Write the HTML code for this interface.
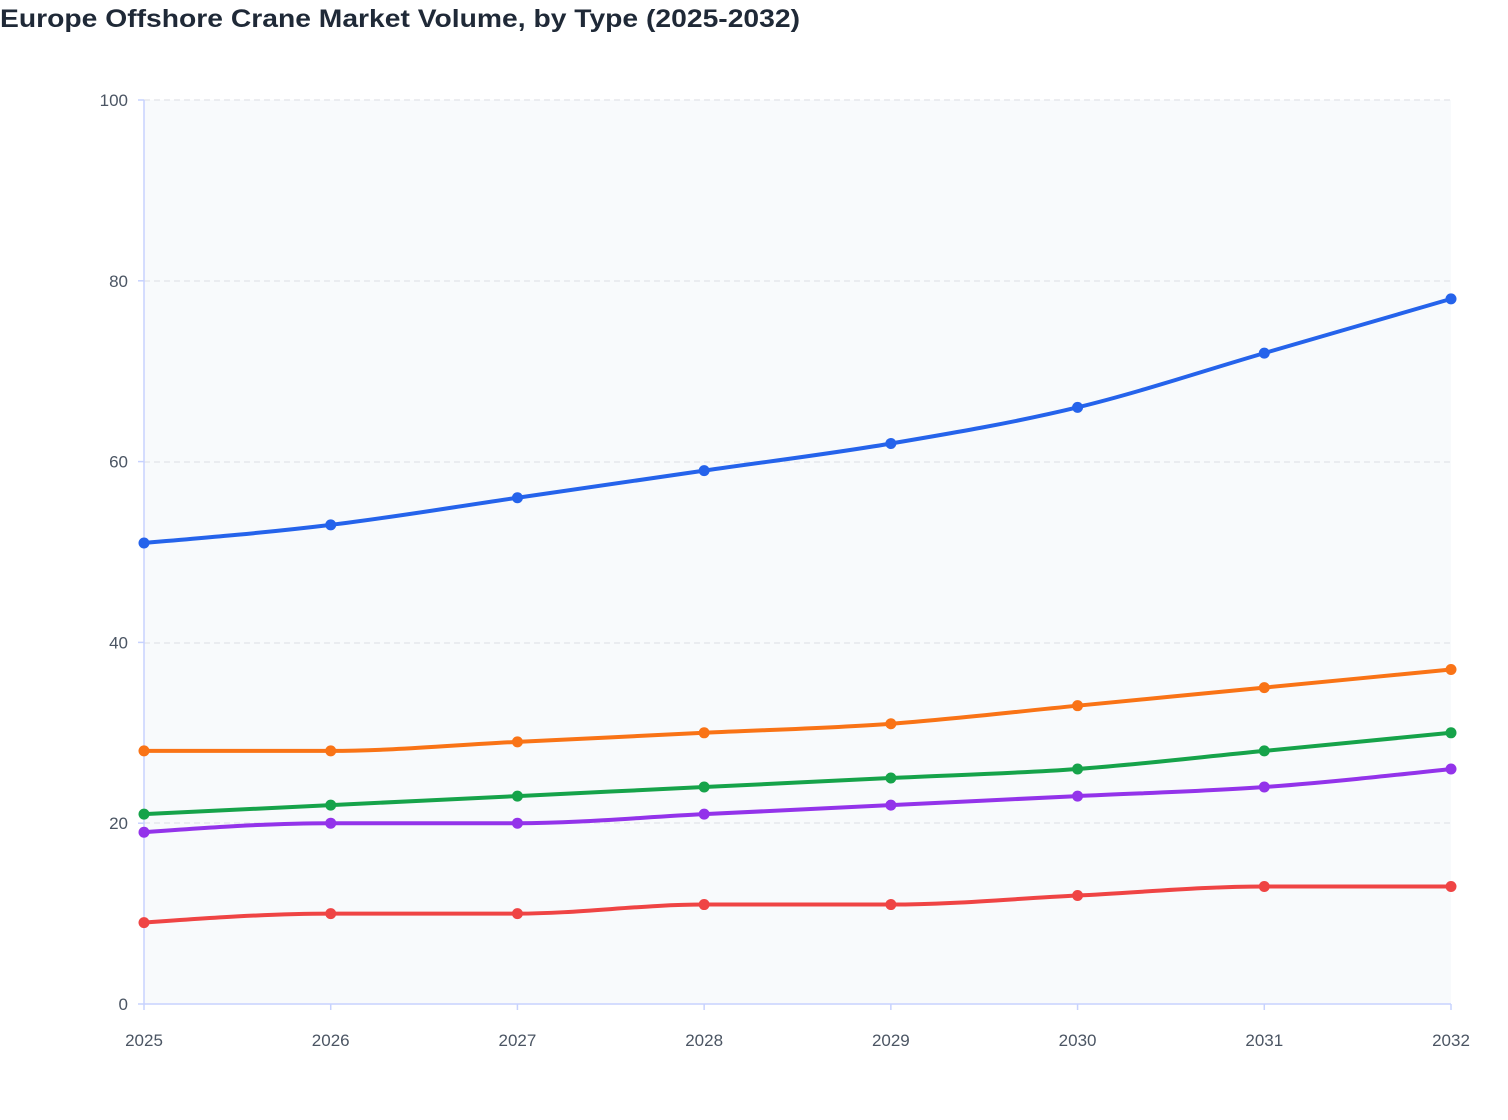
<!DOCTYPE html>
<html><head><meta charset="utf-8"><style>
html,body{margin:0;padding:0;background:#fff;width:1508px;height:1120px;overflow:hidden}
text{font-family:"Liberation Sans",sans-serif}
</style></head><body>
<svg id="s" width="1508" height="1120" xmlns="http://www.w3.org/2000/svg">
<text x="0" y="27" font-size="25" font-weight="600" fill="#1f2937" textLength="800" lengthAdjust="spacingAndGlyphs">Europe Offshore Crane Market Volume, by Type (2025-2032)</text>
<rect x="144" y="100" width="1307" height="904" fill="#f8fafc"/>
<g stroke="#e5e7eb" stroke-width="1.5" stroke-dasharray="6,4">
<line x1="144" x2="1451" y1="100" y2="100"/><line x1="144" x2="1451" y1="281" y2="281"/>
<line x1="144" x2="1451" y1="462" y2="462"/><line x1="144" x2="1451" y1="643" y2="643"/>
<line x1="144" x2="1451" y1="823" y2="823"/>
</g>
<g stroke="#c7d2fe" stroke-width="1.5">
<line x1="144" x2="144" y1="100" y2="1004"/><line x1="144" x2="1451" y1="1004" y2="1004"/>
</g>
<g id="ticks" stroke="#c7d2fe" stroke-width="1.5"></g>
<g id="labels" font-size="17" fill="#4b5563"></g>
<g id="series"></g>
</svg>
<script>
var X0=144,DX=(1451-144)/7,Y0=1004,SY=9.04;
var ns="http://www.w3.org/2000/svg";
function el(t,a,p){var e=document.createElementNS(ns,t);for(var k in a)e.setAttribute(k,a[k]);p.appendChild(e);return e;}
var L=document.getElementById('labels'),T=document.getElementById('ticks'),S=document.getElementById('series');
for(var i=0;i<=5;i++){var y=Y0-i*20*SY;el('text',{x:128,y:y+6,'text-anchor':'end'},L).textContent=i*20;el('line',{x1:138,x2:144,y1:y,y2:y},T);}
for(var i=0;i<8;i++){var x=X0+i*DX;el('text',{x:x,y:1046,'text-anchor':'middle'},L).textContent=2025+i;el('line',{x1:x,x2:x,y1:1004,y2:1010},T);}
var data=[["#2563eb",[51,53,56,59,62,66,72,78]],["#f97316",[28,28,29,30,31,33,35,37]],["#16a34a",[21,22,23,24,25,26,28,30]],["#9333ea",[19,20,20,21,22,23,24,26]],["#ef4444",[9,10,10,11,11,12,13,13]]];
function mono(xs,ys){var n=xs.length,d=[],m=[];for(var i=0;i<n-1;i++)d.push((ys[i+1]-ys[i])/(xs[i+1]-xs[i]));
for(var i=0;i<n;i++){if(i==0)m.push(d[0]);else if(i==n-1)m.push(d[n-2]);else{if(d[i-1]*d[i]<=0)m.push(0);else{var h0=xs[i]-xs[i-1],h1=xs[i+1]-xs[i];var p=(d[i-1]*h1+d[i]*h0)/(h0+h1);m.push((Math.sign(d[i-1])+Math.sign(d[i]))*Math.min(Math.abs(d[i-1]),Math.abs(d[i]),0.5*Math.abs(p)));}}}
m[0]=(3*d[0]-m[1])/2;m[n-1]=(3*d[n-2]-m[n-2])/2;
var s="M"+xs[0]+","+ys[0];for(var i=0;i<n-1;i++){var h=(xs[i+1]-xs[i])/3;s+="C"+(xs[i]+h)+","+(ys[i]+m[i]*h)+","+(xs[i+1]-h)+","+(ys[i+1]-m[i+1]*h)+","+xs[i+1]+","+ys[i+1];}return s;}
data.forEach(function(r){var xs=[],ys=[];r[1].forEach(function(v,i){xs.push(X0+i*DX);ys.push(Y0-v*SY);});
el('path',{d:mono(xs,ys),fill:'none',stroke:r[0],'stroke-width':4},S);
xs.forEach(function(x,i){el('circle',{cx:x,cy:ys[i],r:5.5,fill:r[0]},S);});});
</script>
</body></html>
